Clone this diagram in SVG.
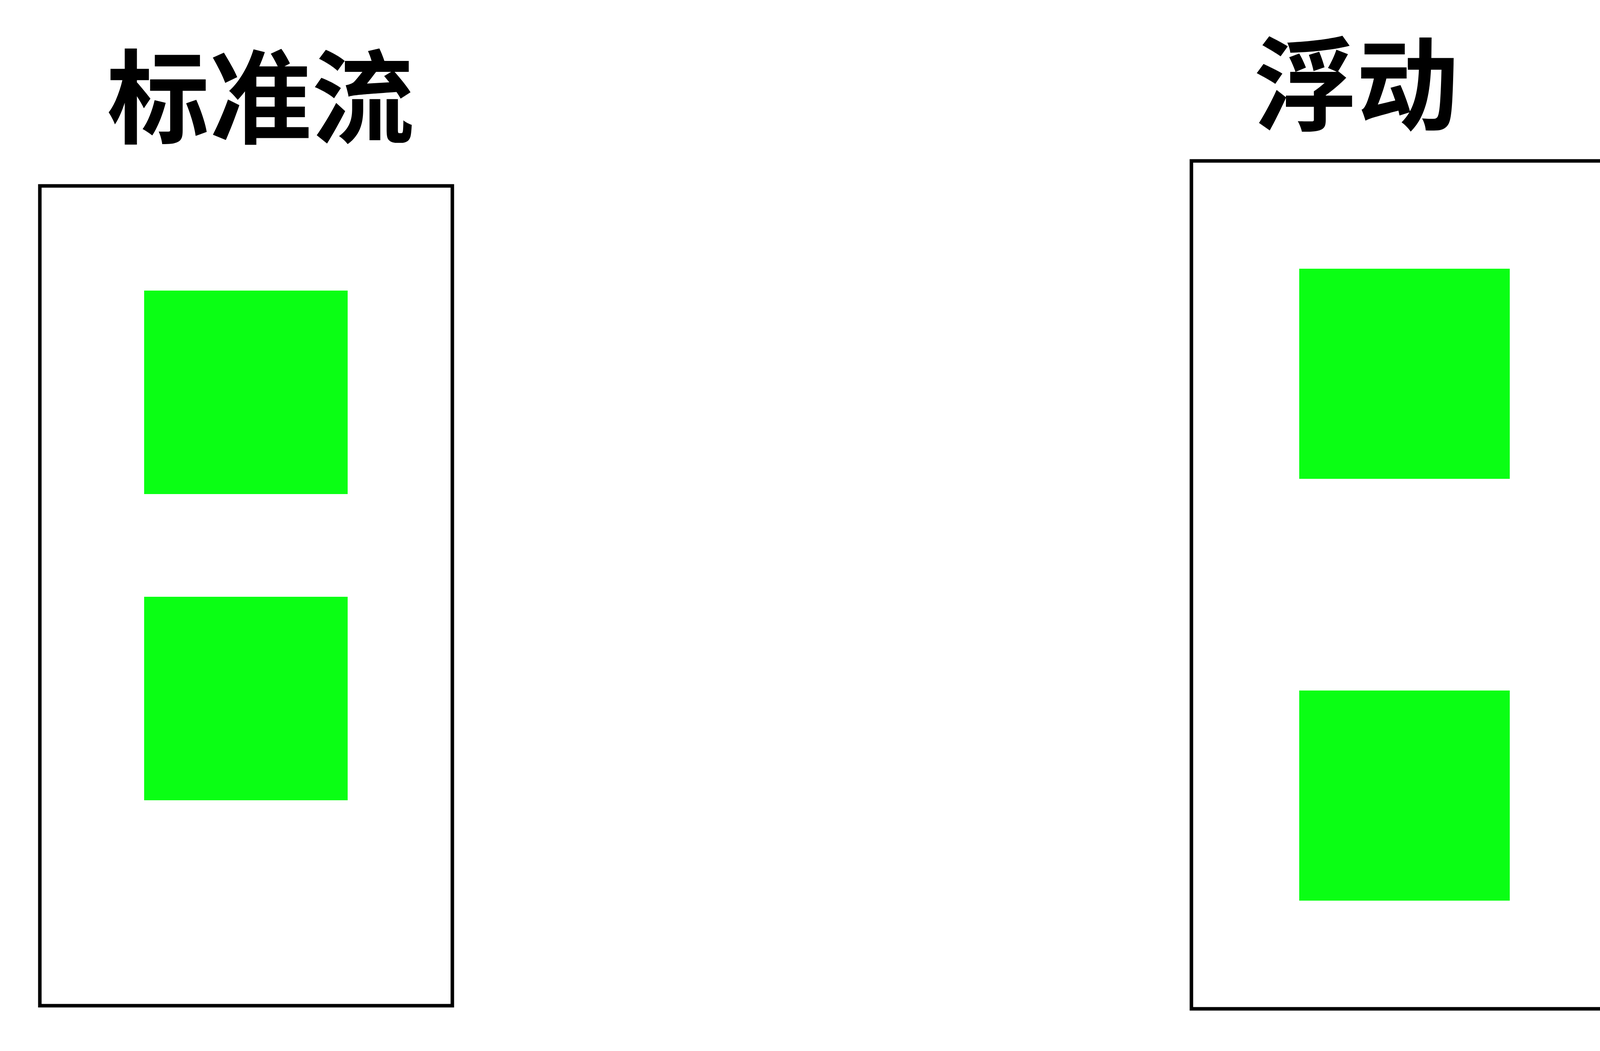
<svg xmlns="http://www.w3.org/2000/svg" width="4242" height="2691" viewBox="0 0 4242 2691">
<style>
.frame{fill:none;stroke:#000;stroke-width:9}
.item{fill:#0aff14}
.title{font-family:"Noto Sans CJK SC","Noto Sans",sans-serif;font-size:262px;font-weight:700;fill:#000}
</style>
<rect width="4242" height="2691" fill="#fff"/>
<g id="standard">
<text class="title" x="274" y="347">标准流</text>
<rect class="frame" x="102" y="476" width="1056" height="2099"/>
<rect class="item" x="369" y="744" width="521" height="521"/>
<rect class="item" x="369" y="1528" width="521" height="521"/>
</g>
<g id="float">
<text class="title" x="3210" y="314">浮动</text>
<rect class="frame" x="3050" y="412" width="1093" height="2171"/>
<rect class="item" x="3326" y="688" width="539" height="538"/>
<rect class="item" x="3326" y="1768" width="539" height="538"/>
</g>
<g id="connectors"/>
</svg>
